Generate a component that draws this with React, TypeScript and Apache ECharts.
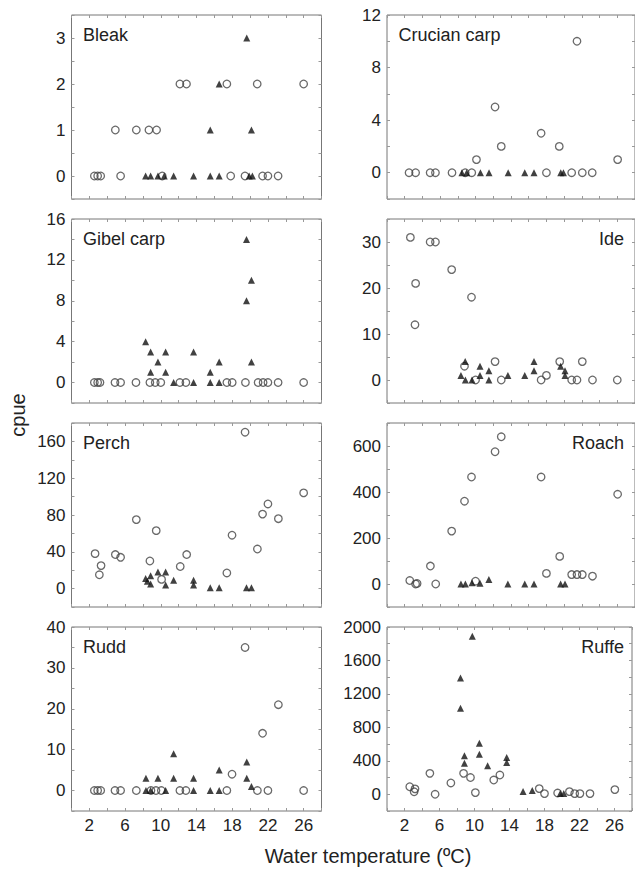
import React, { useEffect, useRef } from "react";
import * as echarts from "echarts";

const FONT = "'Liberation Sans', Arial, Helvetica, sans-serif";

const xTickLabels = [2, 6, 10, 14, 18, 22, 26];

const bleakOpen = [[2.56,0],[2.93,0],[3.27,0],[5.5,0],[10.16,0],[17.83,0],[19.43,0],[21.4,0],[22.0,0],[23.14,0],[4.91,1],[7.26,1],[8.67,1],[9.53,1],[12.14,2],[12.88,2],[17.4,2],[20.8,2],[26.0,2]];
const bleakFilled = [[8.3,0],[8.86,0],[9.68,0],[10.39,0],[11.44,0],[13.67,0],[15.54,0],[16.54,0],[19.9,0],[20.26,0],[15.54,1],[20.15,1],[16.54,2],[19.63,3]];

const crucianOpen = [[2.49,0],[3.23,0],[4.87,0],[5.47,0],[7.34,0],[8.83,0],[9.57,0],[18.0,0],[20.85,0],[22.05,0],[23.17,0],[10.1,1],[12.2,5],[12.9,2],[17.4,3],[19.45,2],[21.45,10],[26.04,1]];
const crucianFilled = [[8.46,0],[9.0,0],[10.55,0],[11.52,0],[13.68,0],[15.55,0],[16.6,0],[19.62,0],[19.92,0]];

const gibelOpen = [[2.56,0],[2.93,0],[3.19,0],[4.87,0],[5.5,0],[7.22,0],[8.78,0],[9.38,0],[10.0,0],[12.14,0],[12.81,0],[17.4,0],[18.0,0],[19.48,0],[20.9,0],[21.46,0],[22.0,0],[23.14,0],[26.0,0]];
const gibelFilled = [[8.3,4],[8.86,3],[8.86,1],[9.68,2],[10.54,3],[10.54,1],[11.44,0],[13.67,3],[13.67,0],[15.54,1],[15.54,0],[16.54,2],[16.54,0],[19.6,14],[19.6,8],[20.15,10],[20.15,2]];

const ideOpen = [[2.64,31],[3.23,21],[3.16,12],[4.87,30],[5.47,30],[7.3,24],[9.54,18],[8.75,3],[10.0,0],[12.2,4],[12.9,0],[17.4,0],[18.0,1],[19.5,4],[20.85,0],[21.45,0],[22.05,4],[23.2,0],[26.0,0]];
const ideFilled = [[8.35,1],[8.83,4],[8.85,0],[9.6,0],[10.5,3],[10.5,1],[11.5,2],[11.5,0],[13.65,1],[15.55,1],[16.6,4],[16.6,2],[19.6,3],[20.1,2],[20.1,1]];

const perchOpen = [[2.64,38],[3.31,25],[3.12,15],[4.91,37],[5.5,34],[7.26,75],[8.78,30],[9.49,63],[10.09,10],[12.18,24],[12.9,37],[17.4,17],[17.98,58],[19.44,170],[20.82,43],[21.4,81],[22.0,92],[23.17,76],[26.0,104]];
const perchFilled = [[8.3,11],[8.5,8],[8.86,14],[8.86,5],[9.68,18],[10.54,18],[10.54,4],[11.44,9],[13.67,9],[13.67,4],[15.54,1],[16.54,1],[19.6,1],[20.15,1]];

const roachOpen = [[2.57,15],[3.23,0],[3.4,2],[4.9,78],[5.5,0],[7.3,230],[8.75,360],[9.54,465],[10.0,12],[12.2,575],[12.9,640],[17.4,465],[18.0,46],[19.5,120],[20.85,41],[21.45,41],[22.05,41],[23.2,34],[26.04,390]];
const roachFilled = [[8.35,0],[8.85,0],[9.6,5],[10.5,3],[11.5,20],[13.65,0],[15.55,0],[16.6,0],[19.6,0],[20.1,0]];

const ruddOpen = [[2.56,0],[2.93,0],[3.27,0],[4.87,0],[5.5,0],[7.26,0],[8.9,0],[9.46,0],[10.06,0],[12.14,0],[12.81,0],[17.4,0],[17.98,4],[19.44,35],[20.82,0],[21.4,14],[22.0,0],[23.17,21],[26.0,0]];
const ruddFilled = [[8.34,3],[8.34,0],[8.86,0],[9.68,3],[10.54,0],[11.44,9],[11.44,3],[13.67,3],[13.67,0],[15.54,0],[16.54,5],[16.54,0],[19.63,7],[19.63,3],[20.15,1]];

const ruffeOpen = [[2.6,90],[3.2,65],[3.1,30],[4.9,250],[5.5,0],[7.3,135],[8.75,250],[9.54,200],[10.1,20],[12.2,170],[12.9,230],[17.4,68],[18.0,8],[19.5,15],[20.85,32],[21.45,8],[22.05,8],[23.2,8],[26.04,56]];
const ruffeFilled = [[8.4,1030],[8.4,1390],[8.85,460],[8.85,372],[9.75,1890],[10.56,610],[10.56,480],[11.5,340],[13.68,440],[13.68,380],[15.55,32],[16.6,44],[19.8,8],[20.2,8]];

const panels = [
  { name: "Bleak", open: bleakOpen, filled: bleakFilled, min: -0.5, max: 3.5, step: 0.5, labels: [0, 1, 2, 3], right: false },
  { name: "Crucian carp", open: crucianOpen, filled: crucianFilled, min: -2, max: 12, step: 2, labels: [0, 4, 8, 12], right: false },
  { name: "Gibel carp", open: gibelOpen, filled: gibelFilled, min: -2, max: 16, step: 2, labels: [0, 4, 8, 12, 16], right: false },
  { name: "Ide", open: ideOpen, filled: ideFilled, min: -5, max: 35, step: 5, labels: [0, 10, 20, 30], right: true },
  { name: "Perch", open: perchOpen, filled: perchFilled, min: -20, max: 180, step: 20, labels: [0, 40, 80, 120, 160], right: false },
  { name: "Roach", open: roachOpen, filled: roachFilled, min: -100, max: 700, step: 100, labels: [0, 200, 400, 600], right: true },
  { name: "Rudd", open: ruddOpen, filled: ruddFilled, min: -5, max: 40, step: 5, labels: [0, 10, 20, 30, 40], right: false },
  { name: "Ruffe", open: ruffeOpen, filled: ruffeFilled, min: -200, max: 2000, step: 200, labels: [0, 400, 800, 1200, 1600, 2000], right: true },
];

const GRID_LEFT = [71.5, 387];
const GRID_W = 250;
const GRID_TOP0 = 15;
const GRID_H = 184;
const ROW_STEP = 204;

const has = (arr: number[], v: number) => arr.some((a) => Math.abs(a - v) < 1e-6);

export default function App() {
  const ref = useRef<HTMLDivElement>(null);
  useEffect(() => {
    const chart = echarts.init(ref.current!, null, { renderer: "svg" });
    const grids: any[] = [];
    const xAxes: any[] = [];
    const yAxes: any[] = [];
    const series: any[] = [];
    const graphics: any[] = [];
    const tick = { show: true, inside: true, length: 3, lineStyle: { color: "#999", width: 1 } };
    const noLine = { show: false, onZero: false };

    panels.forEach((p, i) => {
      const row = Math.floor(i / 2);
      const col = i % 2;
      const left = GRID_LEFT[col];
      const top = GRID_TOP0 + row * ROW_STEP;
      grids.push({ left, top, width: GRID_W, height: GRID_H, show: true, borderColor: "#777", borderWidth: 1, backgroundColor: "#fff" });
      const xBase = { type: "value", gridIndex: i, min: 0, max: 28, interval: 2, axisLine: noLine, splitLine: { show: false }, axisTick: tick };
      xAxes.push({
        ...xBase,
        position: "bottom",
        axisLabel: {
          show: row === 3,
          margin: 6,
          fontSize: 17,
          color: "#222",
          fontFamily: FONT,
          formatter: (v: number) => (has(xTickLabels, v) ? String(v) : ""),
        },
      });
      xAxes.push({ ...xBase, position: "top", axisLabel: { show: false } });
      const yBase = { type: "value", gridIndex: i, min: p.min, max: p.max, interval: p.step, axisLine: noLine, splitLine: { show: false }, axisTick: tick };
      yAxes.push({
        ...yBase,
        position: "left",
        axisLabel: {
          show: true,
          margin: 6,
          fontSize: 17,
          color: "#222",
          fontFamily: FONT,
          formatter: (v: number) => (has(p.labels, v) ? String(Math.round(v)) : ""),
        },
      });
      yAxes.push({ ...yBase, position: "right", axisLabel: { show: false } });

      series.push({
        type: "scatter",
        xAxisIndex: 2 * i,
        yAxisIndex: 2 * i,
        data: p.open,
        symbol: "circle",
        symbolSize: 7.5,
        itemStyle: { color: "rgba(0,0,0,0)", borderColor: "#444", borderWidth: 1.3 },
        z: 2,
      });
      series.push({
        type: "scatter",
        xAxisIndex: 2 * i,
        yAxisIndex: 2 * i,
        data: p.filled,
        symbol: "triangle",
        symbolSize: 7,
        itemStyle: { color: "#111" },
        z: 3,
      });

      graphics.push({
        type: "text",
        x: p.right ? left + GRID_W - 13 : left + 11.5,
        y: top + 20,
        style: {
          text: p.name,
          fontSize: 18,
          fontFamily: FONT,
          fill: "#222",
          align: p.right ? "right" : "left",
          verticalAlign: "middle",
        },
        z: 10,
      });
    });

    graphics.push({
      type: "text",
      x: 18,
      y: 415,
      rotation: Math.PI / 2,
      style: { text: "cpue", fontSize: 20, fontFamily: FONT, fill: "#222", align: "center", verticalAlign: "middle" },
    });
    graphics.push({
      type: "text",
      x: 368,
      y: 856,
      style: { text: "Water temperature (ºC)", fontSize: 20, fontFamily: FONT, fill: "#222", align: "center", verticalAlign: "middle" },
    });

    chart.setOption({
      animation: false,
      backgroundColor: "#fff",
      grid: grids,
      xAxis: xAxes,
      yAxis: yAxes,
      series,
      graphic: graphics,
    });
    return () => chart.dispose();
  }, []);
  return <div ref={ref} style={{ position: "absolute", left: 0, top: 0, width: 635, height: 870 }} />;
}
